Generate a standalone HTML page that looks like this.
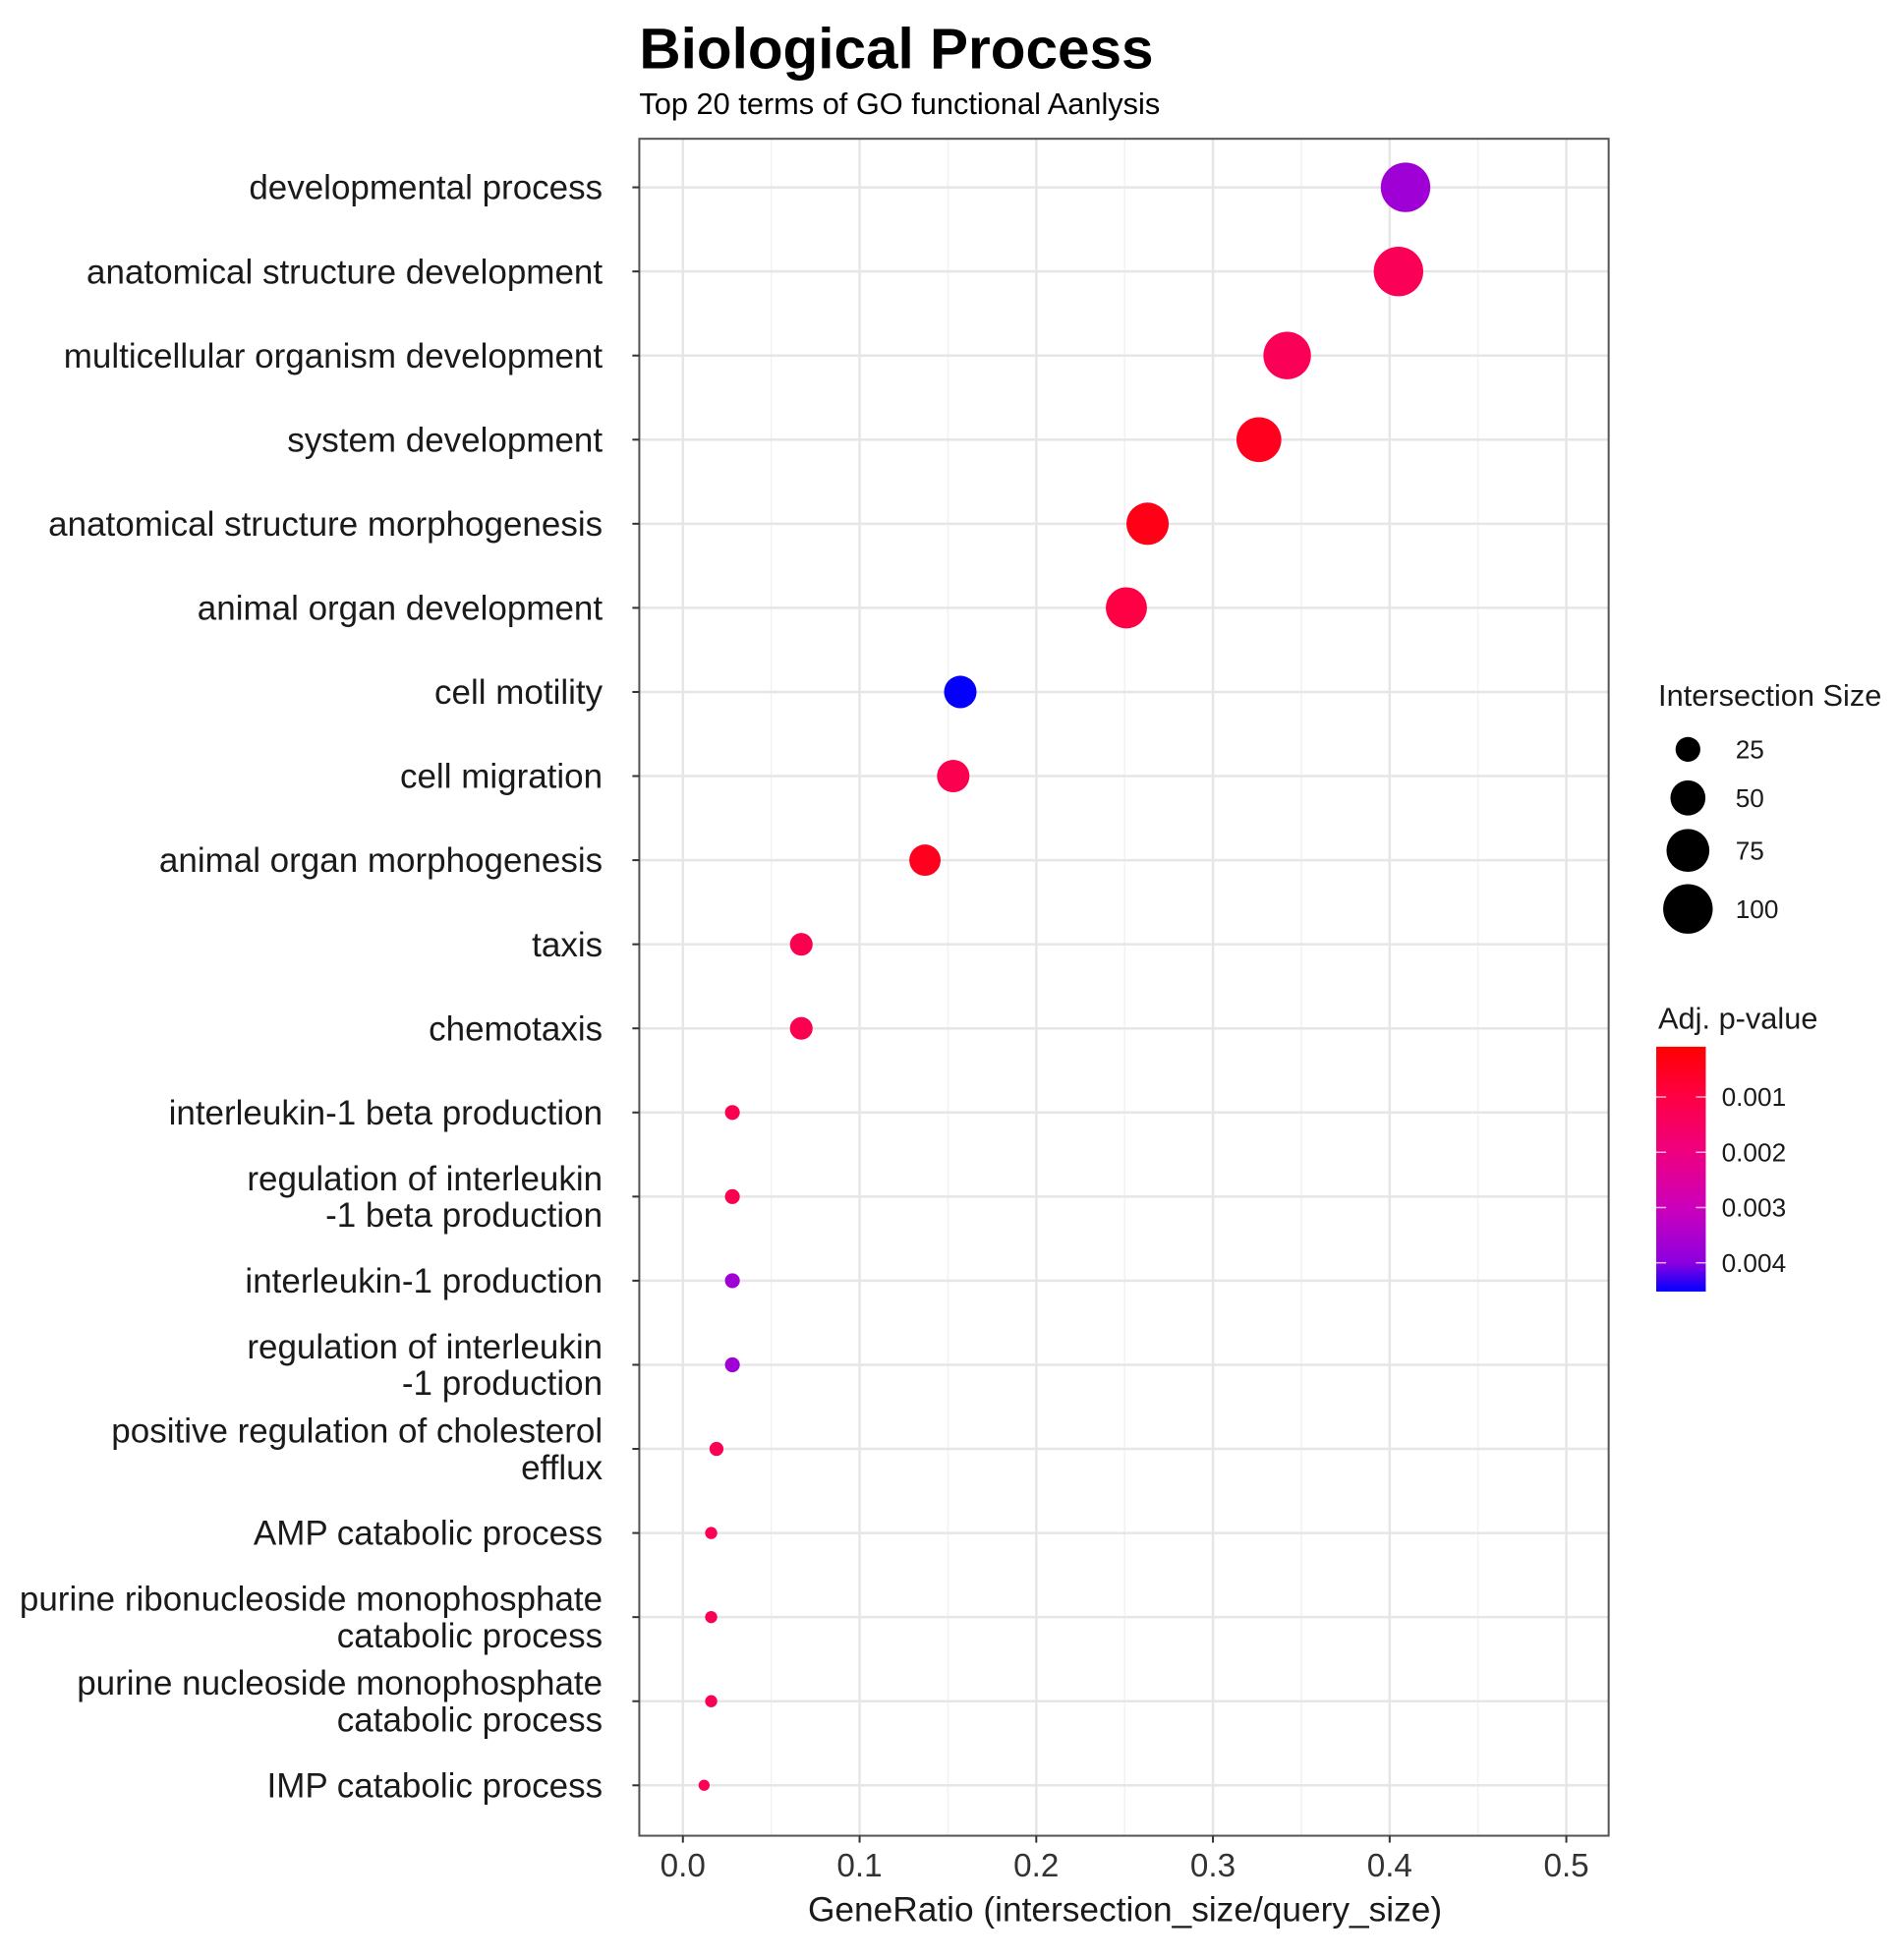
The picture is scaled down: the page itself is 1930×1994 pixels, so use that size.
<!DOCTYPE html>
<html><head><meta charset="utf-8"><style>
html,body{margin:0;padding:0;background:#fff}
svg{display:block;font-family:"Liberation Sans",Arial,sans-serif}
</style></head><body>
<svg id="chart" width="1930" height="1994" viewBox="0 0 1930 1994">
<g transform="scale(1.0084)">
<text x="645" y="69" font-size="58" font-weight="bold" fill="#000">Biological Process</text>
<text x="645" y="115" font-size="30.5" fill="#000">Top 20 terms of GO functional Aanlysis</text>
<g id="plot"></g>
</g>
</svg>
<script>
const terms = ["developmental process","anatomical structure development","multicellular organism development","system development","anatomical structure morphogenesis","animal organ development","cell motility","cell migration","animal organ morphogenesis","taxis","chemotaxis","interleukin-1 beta production","regulation of interleukin|-1 beta production","interleukin-1 production","regulation of interleukin|-1 production","positive regulation of cholesterol|efflux","AMP catabolic process","purine ribonucleoside monophosphate|catabolic process","purine nucleoside monophosphate|catabolic process","IMP catabolic process"];
const geneRatio = [0.409,0.405,0.342,0.326,0.263,0.251,0.157,0.153,0.137,0.067,0.067,0.028,0.028,0.028,0.028,0.019,0.016,0.016,0.016,0.012];
const intersectionSize = [100,100,92,82,73,69,43,43,40,21,21,9,9,9,9,8,6,6,6,5];
const adjP = [0.0037,0.0013,0.0013,0.0005,0.0004,0.0010,0.0045,0.0012,0.0005,0.0012,0.0012,0.0012,0.0012,0.0037,0.0037,0.0013,0.0013,0.0013,0.0013,0.0013];
const xTicks = [0,0.1,0.2,0.3,0.4,0.5];
const xTickLabels = ["0.0","0.1","0.2","0.3","0.4","0.5"];
const sizeLegend = [25,50,75,100];
const pTicks = [0.001,0.002,0.003,0.004];

const NS="http://www.w3.org/2000/svg";
const P={l:645,r:1623,t:140,b:1852};
const x=v=>689+v*1782.6;
const y=i=>189+i*84.85;
const rad=n=>2.5*Math.sqrt(n);
const pMin=0.00009,pMax=0.00452;
const cbTop=1056,cbBot=1303;
const py=p=>cbTop+(p-pMin)/(pMax-pMin)*(cbBot-cbTop);
const stops=[[0.00009,[255,0,0]],[0.001,[255,0,68]],[0.002,[238,0,128]],[0.003,[204,0,187]],[0.004,[140,0,224]],[0.00452,[0,0,255]]];
function col(p){
  p=Math.max(pMin,Math.min(pMax,p));
  for(let i=0;i<stops.length-1;i++){const [a,ca]=stops[i],[b,cb]=stops[i+1];
    if(p<=b){const t=(p-a)/(b-a);return "rgb("+ca.map((c,k)=>Math.round(c+(cb[k]-c)*t)).join(",")+")";}}
  return "rgb(0,0,255)";
}
function mk(tag,attrs,parent){const e=document.createElementNS(NS,tag);for(const k in attrs)e.setAttribute(k,attrs[k]);(parent||g).appendChild(e);return e;}
const g=document.getElementById('plot');

mk('rect',{x:P.l,y:P.t,width:P.r-P.l,height:P.b-P.t,fill:'#fff'});
for(let v=0.05;v<0.5;v+=0.1){const l=mk('line',{x1:x(v),x2:x(v),y1:P.t,y2:P.b,stroke:'#f2f2f2','stroke-width':1.5});

}
xTicks.forEach(v=>{const l=mk('line',{x1:x(v),x2:x(v),y1:P.t,y2:P.b,stroke:'#e6e6e6','stroke-width':2.5});

});
terms.forEach((t,i)=>{const l=mk('line',{x1:P.l,x2:P.r,y1:y(i),y2:y(i),stroke:'#e6e6e6','stroke-width':2.5});

});
const border=mk('rect',{x:P.l,y:P.t,width:P.r-P.l,height:P.b-P.t,fill:'none',stroke:'#555','stroke-width':2});



terms.forEach((t,i)=>{
  const tk=mk('line',{x1:P.l-7,x2:P.l,y1:y(i),y2:y(i),stroke:'#333','stroke-width':2});
  
  
  const lines=t.split('|');
  const tx=mk('text',{x:608,'text-anchor':'end','font-size':34.7,fill:'#1a1a1a'});
  
  
  lines.forEach((s,k)=>{const ts=mk('tspan',{x:608,y:y(i)+12+(k-(lines.length-1)/2)*37},tx);ts.textContent=s;});
});
xTicks.forEach((v,i)=>{
  const tk=mk('line',{x1:x(v),x2:x(v),y1:P.b,y2:P.b+7,stroke:'#333','stroke-width':2});
  
  
  const t=mk('text',{x:x(v),y:1893,'text-anchor':'middle','font-size':33,fill:'#333'});
  t.textContent=xTickLabels[i];
  
  
});
const xt=mk('text',{x:1135,y:1938,'text-anchor':'middle','font-size':35,fill:'#1a1a1a'});
xt.textContent="GeneRatio (intersection_size/query_size)";



terms.forEach((t,i)=>{
  const c=mk('circle',{cx:x(geneRatio[i]),cy:y(i),r:rad(intersectionSize[i]),fill:col(adjP[i])});
  
  
});

const st=mk('text',{x:1673,y:712,'font-size':30.5,fill:'#1a1a1a'});
st.textContent="Intersection Size";


const legY=[756,805,858,917];
sizeLegend.forEach((n,i)=>{
  const c=mk('circle',{cx:1703,cy:legY[i],r:rad(n),fill:'#000'});
  
  
  const t=mk('text',{x:1751,y:legY[i]+9,'font-size':26,fill:'#1a1a1a'});
  t.textContent=String(n);
  
  
});
const pt=mk('text',{x:1673,y:1038,'font-size':30.5,fill:'#1a1a1a'});
pt.textContent="Adj. p-value";


const defs=mk('defs',{});
const lg=mk('linearGradient',{id:'cb',x1:0,y1:0,x2:0,y2:1},defs);
stops.forEach(s=>{mk('stop',{offset:(s[0]-pMin)/(pMax-pMin),'stop-color':col(s[0])},lg);});
const cb=mk('rect',{x:1671,y:cbTop,width:50,height:cbBot-cbTop,fill:'url(#cb)'});


pTicks.forEach(p=>{
  mk('line',{x1:1671,x2:1681,y1:py(p),y2:py(p),stroke:'#fff','stroke-width':1.5,opacity:0.7});
  mk('line',{x1:1711,x2:1721,y1:py(p),y2:py(p),stroke:'#fff','stroke-width':1.5,opacity:0.7});
  const t=mk('text',{x:1737,y:py(p)+9,'font-size':26,fill:'#1a1a1a'});
  t.textContent=p.toFixed(3);
  
  
});
</script>
</body></html>
